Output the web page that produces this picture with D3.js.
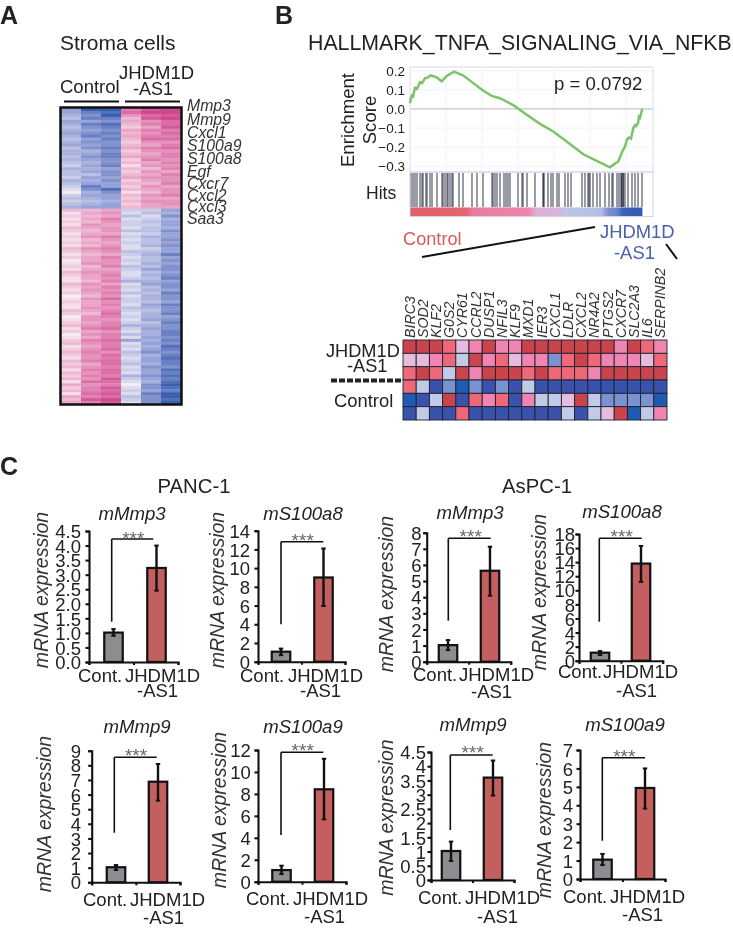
<!DOCTYPE html>
<html><head><meta charset="utf-8">
<script src="https://cdn.jsdelivr.net/npm/d3@7"></script>
<style>html,body{margin:0;padding:0;background:#fff}svg{display:block;filter:blur(.3px)}text{font-family:"Liberation Sans",Arial,sans-serif;fill:#222}</style>
</head><body><svg id="c" width="733" height="931"></svg>
<script>
// ---- Panel A heatmap ----
const stromaSamples=["C1","C2","C3","J1","J2","J3"];
const stromaC1=[-5,-5,-4,-3,-5,-4,-3,-4,-5,-4,-3,-4,-5,-3,-4,-4,-3,-4,-3,-2,-4,-3,-3,-2,-4,-3,-2,-1,0,-2,-3,-2,-3,-4,
 3,1,2,1,2,1,3,2,1,2,1,2,1,3,2,1,2,0,1,2,1,3,2,1,1,3,2,1,2,0,1,2,1,1,3,2,0,1,2,3,1,2,0,1,2,3,1,2,3,2,1,3,2,3,1,3,2,3,1,4,2,3,1,4,3,4];
const stromaC2=[-9,-7,-6,-7,-5,-7,-6,-5,-6,-7,-5,-6,-5,-6,-4,-5,-6,-5,-4,-5,-4,-5,-3,-5,-4,-5,-7,-6,-4,-5,-4,-3,-4,-5,
 3,4,3,4,3,5,4,3,4,5,3,4,3,5,4,3,4,4,5,3,4,5,4,4,3,5,4,5,4,3,5,4,4,5,4,3,5,5,4,5,6,4,5,4,6,5,4,5,6,5,5,6,4,5,6,5,6,5,7,5,6,6,7,6,8,6];
const stromaC3=[-9,-8,-9,-7,-6,-8,-7,-6,-7,-6,-7,-6,-6,-7,-6,-7,-7,-6,-6,-7,-5,-6,-6,-5,-6,-5,-5,-8,-6,-5,-5,-4,-5,-5,
 4,5,4,6,5,4,5,5,4,6,5,4,5,6,5,4,6,5,5,6,4,5,6,5,6,4,6,5,6,5,7,5,6,5,6,7,6,5,6,6,7,5,6,6,7,6,6,7,5,7,6,7,7,6,7,7,6,8,7,6,8,7,8,7,9,8];
const stromaJ1=[6,7,5,3,4,3,2,4,3,4,3,2,3,4,2,3,4,2,3,1,3,2,3,4,2,3,2,3,1,3,2,3,2,3,
 -2,-1,-3,-1,-2,-2,-1,-3,-1,-2,-1,-2,-1,-1,-3,-2,-1,-2,-1,-3,-2,-1,-1,-2,-4,-1,-2,-1,-3,-1,-2,-2,-1,-3,-2,-1,-2,-1,-2,-4,-2,-1,-3,-1,-5,-1,-2,-1,-3,-2,-1,-2,-3,-1,-2,-1,-4,-2,-1,0,-1,-2,-1,-3,-2,-1];
const stromaJ2=[8,9,7,8,5,6,4,6,5,6,7,5,4,6,5,4,5,6,4,5,3,5,4,5,4,3,5,4,3,5,4,5,4,4,
 -2,-3,-1,-2,-3,-2,-3,-3,-2,-4,-3,-3,-4,-2,-3,-4,-3,-3,-4,-3,-5,-3,-4,-3,-4,-5,-3,-4,-3,-4,-4,-3,-5,-4,-3,-4,-4,-5,-3,-4,-5,-4,-4,-5,-4,-5,-4,-5,-6,-4,-5,-5,-4,-6,-5,-5,-6,-5,-4,-6,-6,-5,-7,-6,-6,-6];
const stromaJ3=[9,9,8,9,7,7,8,6,7,6,7,5,6,7,5,6,6,5,6,5,6,4,6,5,5,6,4,5,5,6,4,5,5,4,
 -5,-4,-6,-4,-5,-5,-4,-6,-5,-5,-6,-5,-6,-5,-5,-7,-5,-6,-5,-6,-6,-5,-6,-7,-5,-6,-6,-5,-7,-6,-6,-5,-7,-6,-6,-7,-5,-6,-7,-6,-6,-7,-7,-6,-7,-6,-8,-7,-6,-7,-8,-7,-7,-6,-8,-7,-8,-7,-8,-9,-8,-7,-9,-9,-8,-9];
const stromaGenes=["Mmp3","Mmp9","Cxcl1","S100a9","S100a8","Egf","Cxcr7","Cxcl2","Cxcl3","Saa3"];

// ---- Panel B enrichment ----
const esRank=[0,1,2,3,5,7,10,12,15,18,20.7,24,26.7,31.7,36.7,44,53.3,63.3,73.3,81.7,90,103.3,116.7,130,143.3,156.7,173.3,186.7,200,204,208.3,211,213,215,217,219,221,223.3,225,226,228,229,230,231,232.3];
const esScore=[0.03,0.06,0.07,0.065,0.11,0.105,0.14,0.135,0.16,0.165,0.175,0.17,0.165,0.145,0.172,0.195,0.175,0.135,0.095,0.068,0.056,0.02,-0.03,-0.078,-0.118,-0.17,-0.237,-0.272,-0.305,-0.29,-0.275,-0.24,-0.215,-0.197,-0.16,-0.15,-0.155,-0.10,-0.085,-0.09,-0.075,-0.04,-0.045,-0.025,0];
const esTicks=[0.2,0.1,0,-0.1,-0.2,-0.3];
const hitRanks=[1,3,5,7,10,12,13,16,17,20,22,27,32,33,35,37,38,40,42,43,49,53,62,67,73,82,83,85,87,90,94,96,98,100,108,112,113,117,125,133,133.5,134,138,141,143,147,149,155,158,161,172,175,178,179,180,183,187,190,195,199,202,203,207,209,211,211.5,212,213,213.5,215,218,222,225,228,232];
const rankBarStops=[0,55,62,118,125,148,155,190,197,205,212,232.3];
const rankBarColors=["#e05f69","#e2656f","#e97aa0","#ee85ac","#dcb0d6","#d8b4da","#bcc4e8","#b4bee4","#7a90d2","#6e88cc","#3f60b8","#3458b4"];

// ---- Panel B leading-edge heatmap ----
const leadGenes=["BIRC3","SOD2","KLF2","G0S2","CYR61","CCRL2","DUSP1","NFIL3","KLF9","MXD1","IER3","CXCL1","LDLR","CXCL2","NR4A2","PTGS2","CXCR7","SLC2A3","IL6","SERPINB2"];
const leadRow1=[3,3,3,2,0,1,3,1,1,3,3,3,3,3,3,3,1,3,2,1];
const leadRow2=[0,0,1,2,-1,3,1,2,0,1,1,-2,2,3,2,1,1,1,0,2];
const leadRow3=[2,3,2,-1,3,1,3,3,3,2,3,2,2,2,1,3,3,3,3,3];
const leadRow4=[2,-1,-3,-2,-4,-2,-3,-2,-3,-1,-3,-3,-3,-3,-3,-3,-3,-3,-3,-3];
const leadRow5=[-4,-3,-1,3,-3,2,1,2,-3,1,-1,-1,0,3,-1,-2,-2,-2,-2,-4];
const leadRow6=[-3,-1,-3,-3,2,-3,-3,-3,-3,-3,-3,-3,-1,-3,-1,0,3,-4,-1,1];
const leadLevels=[-4,-3,-2,-1,0,1,2,3];
const leadColors=["#1f5bb0","#3a52ab","#7a92cf","#c1cbe8","#e4bcdc","#ef85b0","#ee6878","#c9444b"];

// ---- Panel C bar values ----
const barCats=["Cont.","JHDM1D"];
const panelTitles=["mMmp3","mS100a8","mMmp3","mS100a8","mMmp9","mS100a9","mMmp9","mS100a9"];
const barMeans=[[1.01,3.23],[1.07,9.0],[1.03,5.64],[1.14,13.8],[1.03,6.88],[1.06,8.42],[1.02,3.6],[1.05,4.94]];
const errHigh=[[1.13,4.0],[1.4,12.1],[1.34,7.13],[1.37,16.3],[1.18,8.09],[1.46,11.2],[1.35,4.2],[1.36,6.0]];
const errLow=[[0.9,2.45],[0.7,5.95],[0.72,4.09],[0.8,11.2],[0.84,5.58],[0.7,5.68],[0.67,2.97],[0.76,3.82]];
const tickLists=[
 ["0.0","0.5","1.0","1.5","2.0","2.5","3.0","3.5","4.0","4.5"],
 ["0","2","4","6","8","10","12","14"],
 ["0","1","2","3","4","5","6","7","8"],
 ["0","2","4","6","8","10","12","14","16","18"],
 ["0","1","2","3","4","5","6","7","8","9"],
 ["0","2","4","6","8","10","12"],
 ["0","0.5","1","1.5","2","2.5","3","3.5","4","4.5"],
 ["0","1","2","3","4","5","6","7"]];

// layout of the eight bar panels
const L=[
{ax:89,right:178,y0:662,top:531,c:[113.5,156.5],brX:[111.7,153.3],brY:[621.7,539],star:[133.3,535],title:132,titleY:520,labX:48,labY:590,tickEnd:81,cont:78,j:125,as:137,b1:682,b2:697},
{ax:258,right:345,y0:661.7,top:530.7,c:[281,323.5],brX:[281,323.3],brY:[624.3,541.7],star:[302.7,536.7],title:303,titleY:520,labX:224,labY:590,tickEnd:250,cont:240,j:288,as:300,b1:682,b2:697},
{ax:426.7,right:510.7,y0:661.7,top:532.7,c:[448,490],brX:[448.3,490.7],brY:[620.7,538.3],star:[470.7,533.3],title:470,titleY:519,labX:393,labY:594,tickEnd:421.6,cont:413,j:459,as:471,b1:680.7,b2:698},
{ax:579,right:662.7,y0:660.7,top:534,c:[600,641],brX:[599.3,641.7],brY:[621.7,538.3],star:[621.7,533.3],title:622,titleY:518,labX:546,labY:592,tickEnd:575,cont:558,j:603,as:616,b1:678,b2:697},
{ax:91.7,right:180,y0:882.3,top:750.7,c:[116,158],brX:[114.3,156.7],brY:[832.7,757.3],star:[136,751.7],title:137,titleY:733,labX:51,labY:814,tickEnd:81,cont:83,j:130,as:143,b1:906,b2:924},
{ax:258,right:346,y0:881.7,top:750,c:[281.5,324],brX:[281,323.3],brY:[835,752.3],star:[302.7,746.7],title:303,titleY:733,labX:226,labY:810,tickEnd:250.7,cont:246,j:293,as:304,b1:905,b2:923},
{ax:431,right:514,y0:880,top:752,c:[451,493],brX:[450.3,492.7],brY:[830,755],star:[472.7,749],title:473,titleY:731,labX:393,labY:817.5,tickEnd:426,cont:418,j:465,as:477,b1:904,b2:923},
{ax:580,right:665,y0:879,top:750,c:[602.5,645],brX:[602.3,645],brY:[840.7,757.7],star:[624.3,752.7],title:625,titleY:731,labX:551,labY:820,tickEnd:573,cont:563,j:610,as:622,b1:903,b2:921}];

const svg=d3.select("#c");
const txt=(s,x,y,size,opt={})=>{
  const t=svg.append("text").attr("x",x).attr("y",y).attr("font-size",size).text(s);
  if(opt.anchor)t.attr("text-anchor",opt.anchor);
  if(opt.italic)t.attr("font-style","italic");
  if(opt.bold)t.attr("font-weight","bold");
  if(opt.fill)t.style("fill",opt.fill);
  if(opt.rotate)t.attr("transform",`rotate(-90 ${x} ${y})`);
  return t;
};
const seg=(x1,y1,x2,y2,w=2,col="#111")=>svg.append("line").attr("x1",x1).attr("y1",y1).attr("x2",x2).attr("y2",y2).attr("stroke",col).attr("stroke-width",w);

// panel letters
txt("A",0,24,25,{bold:1});txt("B",275,24,25,{bold:1});txt("C",0,475,25,{bold:1});

// ---------- Panel A ----------
txt("Stroma cells",60,50,21);
txt("Control",60,93,18.5);txt("JHDM1D",119,79,18.5);txt("-AS1",133,95,18);
seg(64,101.5,119,101.5);seg(125,101.5,180,101.5);
const aCols=[stromaC1,stromaC2,stromaC3,stromaJ1,stromaJ2,stromaJ3];
const ax=d3.scaleBand().domain(stromaSamples).range([61,181]);
const ay=d3.scaleBand().domain(d3.range(stromaC1.length)).range([108,404]);
const ac=d3.scaleLinear().domain([-9,-5,-1,0,1,4,9]).range(["#3a5fb0","#98a3d8","#dcdcef","#f4eef4","#f5dde9","#eaa6c8","#d0468f"]);
aCols.forEach((col,i)=>svg.append("g").selectAll("rect").data(col).join("rect")
  .attr("x",ax(stromaSamples[i])).attr("width",ax.bandwidth()+.5)
  .attr("y",(d,r)=>ay(r)).attr("height",ay.bandwidth()+.4).attr("fill",d=>ac(d)));
svg.append("rect").attr("x",60.5).attr("y",107.5).attr("width",121).attr("height",297).attr("fill","none").attr("stroke","#111").attr("stroke-width",2.5);
const geneY=[111,125,138,151,164,177,189,201,212,224];
stromaGenes.forEach((g,i)=>txt(g,187,geneY[i],15.8,{italic:1,fill:"#333"}));

// ---------- Panel B enrichment ----------
txt("HALLMARK_TNFA_SIGNALING_VIA_NFKB",308,50,21.3);
const gx=d3.scaleLinear().domain([0,243]).range([410,653]);
const gy=d3.scaleLinear().domain([0.2,-0.3]).range([70.7,166.3]);
const grid=svg.append("g").attr("stroke","#f1f2f7").attr("stroke-width",1);
esTicks.forEach(v=>grid.append("line").attr("x1",410).attr("x2",653).attr("y1",gy(v)).attr("y2",gy(v)));
[36,72,108,144,180,216].forEach(v=>grid.append("line").attr("x1",gx(v)).attr("x2",gx(v)).attr("y1",67).attr("y2",172));
seg(410,gy(0),653,gy(0),1.2,"#c8cad6");
svg.append("rect").attr("x",410).attr("y",67).attr("width",243).attr("height",105).attr("fill","none").attr("stroke","#d8ddee");
const gAxis=svg.append("g").attr("transform","translate(406,0)").call(d3.axisLeft(gy).tickValues(esTicks).tickSize(0).tickFormat(d3.format(".1f")));
gAxis.select(".domain").remove();
gAxis.selectAll("text").attr("font-size",13.5).attr("x",-1).style("font-family",'"Liberation Sans"');
svg.append("path").datum(esRank.map((r,i)=>[r,esScore[i]])).attr("fill","none").attr("stroke","#7cc36a").attr("stroke-width",2.5)
  .attr("d",d3.line().x(d=>gx(d[0])).y(d=>gy(d[1])));
txt("p = 0.0792",554,90,18.6);
txt("Enrichment",354,120,18.6,{rotate:1,anchor:"middle"});
txt("Score",376,120,18.6,{rotate:1,anchor:"middle"});
txt("Hits",366,199,17.5);
svg.append("g").selectAll("line").data(hitRanks).join("line").attr("x1",d=>gx(d)).attr("x2",d=>gx(d)).attr("y1",173).attr("y2",207)
  .attr("stroke","#2c3244").attr("stroke-opacity",.75).attr("stroke-width",1.3);
const barScale=d3.scaleLinear().domain(rankBarStops).range(rankBarColors);
svg.append("g").selectAll("rect").data(d3.range(0,232,2)).join("rect").attr("x",d=>gx(d)).attr("width",2.4).attr("y",207.5).attr("height",9).attr("fill",d=>barScale(d));
svg.append("rect").attr("x",410).attr("y",172).attr("width",243).attr("height",44.5).attr("fill","none").attr("stroke","#d0d4e6");
txt("Control",403,245,18.2,{fill:"#d65a60"});
txt("JHDM1D",600,238,18.4,{fill:"#4a60b0"});
txt("-AS1",614,259,18.4,{fill:"#4a60b0"});
seg(422,257,595,227);seg(666,244,677,259);

// ---------- Panel B leading edge ----------
const leadRows=[leadRow1,leadRow2,leadRow3,leadRow4,leadRow5,leadRow6];
const lx=d3.scaleBand().domain(leadGenes).range([403,667]);
const ly=d3.scaleBand().domain(d3.range(6)).range([340,420]);
const lc=d3.scaleOrdinal().domain(leadLevels).range(leadColors);
leadRows.forEach((row,r)=>svg.append("g").selectAll("rect").data(row).join("rect")
  .attr("x",(d,i)=>lx(leadGenes[i])).attr("y",ly(r)).attr("width",lx.bandwidth()).attr("height",ly.bandwidth())
  .attr("fill",d=>lc(d)).attr("stroke","#1d2233").attr("stroke-width",.9));
leadGenes.forEach(g=>txt(g,lx(g)+lx.bandwidth()/2+5,338,14.2,{rotate:1,italic:1,fill:"#333"}));
txt("JHDM1D",326,357,18.2);txt("-AS1",347,372,18.2);txt("Control",334,407,18.4);
seg(331,380.5,403,380.5,4,"#222").attr("stroke-dasharray","6 2");

// ---------- Panel C ----------
txt("PANC-1",194,493,20.3,{anchor:"middle"});txt("AsPC-1",537,493,20.3,{anchor:"middle"});
L.forEach((p,i)=>{
  const ticks=tickLists[i],maxV=+ticks[ticks.length-1],step=maxV/(ticks.length-1);
  const y=d3.scaleLinear().domain([0,maxV]).range([p.y0,p.top]);
  const s=p.c[1]-p.c[0];
  const x=d3.scaleBand().domain(barCats).range([p.c[0]-s/2,p.c[1]+s/2]);
  const xa=d3.scaleLinear().domain([0,2]).range([p.ax,p.right]);
  const g=svg.append("g");
  const bw=18.5;
  barCats.forEach((c,k)=>{
    const cx=x(c)+x.bandwidth()/2;
    g.append("rect").attr("x",cx-bw/2).attr("width",bw).attr("y",y(barMeans[i][k])).attr("height",p.y0-y(barMeans[i][k]))
      .attr("fill",k?"#c3605f":"#8c8d90").attr("stroke","#111").attr("stroke-width",2.2);
    g.append("line").attr("x1",cx).attr("x2",cx).attr("y1",y(errHigh[i][k])).attr("y2",y(errLow[i][k])).attr("stroke","#111").attr("stroke-width",2.4);
    [errHigh[i][k],errLow[i][k]].forEach(v=>g.append("line").attr("x1",cx-2.2).attr("x2",cx+2.2).attr("y1",y(v)).attr("y2",y(v)).attr("stroke","#111").attr("stroke-width",2));
  });
  const ya=g.append("g").attr("transform",`translate(${p.ax},0)`)
    .call(d3.axisLeft(y).tickValues(ticks.map((t,k)=>k*step)).tickSize(3.5).tickFormat((d,k)=>ticks[k]));
  ya.selectAll("path,line").attr("stroke","#111").attr("stroke-width",2.1);
  ya.selectAll("text").attr("font-size",18.5).attr("x",p.tickEnd-p.ax).attr("dy",".36em").style("font-family",'"Liberation Sans"').style("fill","#222");
  const xA=g.append("g").attr("transform",`translate(0,${p.y0})`)
    .call(d3.axisBottom(xa).tickValues([0,1,2]).tickSize(3).tickFormat(""));
  xA.selectAll("path,line").attr("stroke","#111").attr("stroke-width",2.1);
  seg(p.brX[0],p.brY[0],p.brX[0],p.brY[1],1.6);seg(p.brX[0],p.brY[1],p.brX[1],p.brY[1],1.6);
  txt("***",p.star[0],p.star[1]+10,19,{anchor:"middle",fill:"#666"});
  txt(panelTitles[i],p.title,p.titleY,18.6,{anchor:"middle",italic:1});
  txt("mRNA expression",p.labX,p.labY,19.5,{rotate:1,anchor:"middle",italic:1,fill:"#333"});
  txt("Cont.",p.cont,p.b1,18.5);txt("JHDM1D",p.j,p.b1,18.5);txt("-AS1",p.as,p.b2,18.5);
});
</script></body></html>
